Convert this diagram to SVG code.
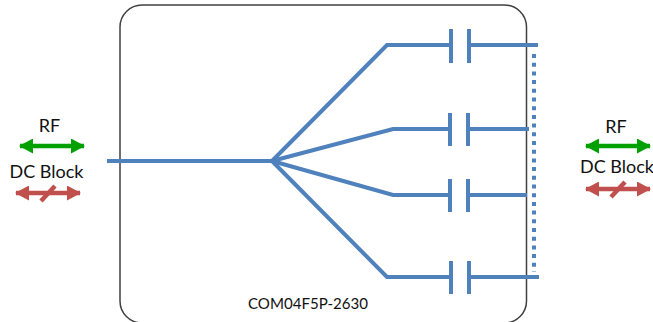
<svg xmlns="http://www.w3.org/2000/svg" width="653" height="322" viewBox="0 0 653 322">
<defs>
<marker id="g" viewBox="0 0 14 15" refX="13" refY="7.500" markerWidth="14" markerHeight="15" markerUnits="userSpaceOnUse" orient="auto-start-reverse"><path d="M0 0L14 7.500L0 15Z" fill="#00a000"/></marker>
<marker id="r" viewBox="0 0 14 15" refX="13" refY="7.500" markerWidth="14" markerHeight="15" markerUnits="userSpaceOnUse" orient="auto-start-reverse"><path d="M0 0L14 7.500L0 15Z" fill="#c0504d"/></marker>
</defs>
<style>
text{font-family:Lato,"Open Sans","Liberation Sans",sans-serif;fill:#111}
.w{fill:none;stroke:#4f81bd;stroke-width:4}
.ga{stroke:#00a000;stroke-width:4.500;fill:none;marker-start:url(#g);marker-end:url(#g)}
.ra{stroke:#c0504d;stroke-width:4.500;fill:none;marker-start:url(#r);marker-end:url(#r)}
.rs{stroke:#c0504d;stroke-width:4.500;fill:none}
.l{font-size:18px;text-anchor:middle}
</style>
<rect width="653" height="322" fill="#fff"/>
<g id="box"><rect x="120" y="5" width="406.500" height="318" rx="22" fill="#fff" stroke="#404040" stroke-width="1.500"/>
<text x="308" y="309" font-size="15px" text-anchor="middle" textLength="120" lengthAdjust="spacingAndGlyphs">COM04F5P-2630</text></g>
<g id="connectors">
<path class="w" d="M107 161H272"/>
<path class="w" d="M272 161L387 45H451M469 45H538"/>
<path class="w" d="M272 161L393 129H450M468 129H529"/>
<path class="w" d="M272 161L393 195H450M468 195H527"/>
<path class="w" d="M272 161L387 277H451M469 277H539"/>
<path d="M534 54V272" fill="none" stroke="#4f81bd" stroke-width="4" stroke-dasharray="4 4.700"/>
</g>
<g id="cap1"><path class="w" d="M451 29V63M469 29V63"/></g>
<g id="cap2"><path class="w" d="M450 113V146M468 113V146"/></g>
<g id="cap3"><path class="w" d="M450 179V212M468 179V212"/></g>
<g id="cap4"><path class="w" d="M451 261V294M469 261V294"/></g>
<g id="left-rf"><text class="l" x="49.500" y="132">RF</text><path class="ga" d="M20 146H84"/></g>
<g id="left-dc"><text class="l" x="46.500" y="178" textLength="74" lengthAdjust="spacingAndGlyphs">DC Block</text><path class="ra" d="M16 193H80"/><path class="rs" d="M41 201L55 186"/></g>
<g id="right-rf"><text class="l" x="616" y="133">RF</text><path class="ga" d="M586 146H650"/></g>
<g id="right-dc"><text class="l" x="617" y="173" textLength="74" lengthAdjust="spacingAndGlyphs">DC Block</text><path class="ra" d="M586 189H650"/><path class="rs" d="M611 197L625 182"/></g>
</svg>
